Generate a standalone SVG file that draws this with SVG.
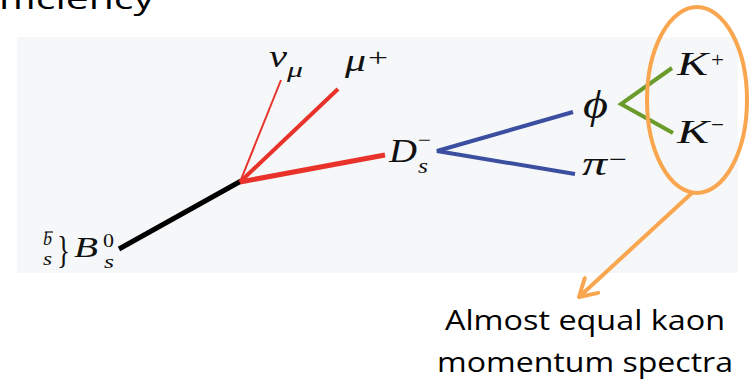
<svg xmlns="http://www.w3.org/2000/svg" width="750" height="381" viewBox="0 0 750 381">
<style>
.m{font-family:"Liberation Serif","DejaVu Serif",serif;font-style:italic;fill:#111}
.r{font-family:"Liberation Serif","DejaVu Serif",serif;fill:#111}
.t{font-family:"Open Sans","Liberation Sans",sans-serif;fill:#000}
</style>
<defs>
<marker id="ah" markerWidth="24" markerHeight="24" refX="19" refY="12" orient="auto" markerUnits="userSpaceOnUse" viewBox="0 0 24 24">
<polyline points="2,2 19,12 2,22" fill="none" stroke="#f9a64f" stroke-width="4" stroke-linecap="round" stroke-linejoin="round"/>
</marker>
</defs>
<rect width="750" height="381" fill="#fff"/>
<text class="t" x="-2" y="9" font-size="30" textLength="156" lengthAdjust="spacingAndGlyphs">fficiency</text>
<rect id="panel" x="17" y="37" width="721" height="236" fill="#f5f7f9"/>
<g id="connectors">
<line x1="119" y1="249" x2="241" y2="181" stroke="#000" stroke-width="5"/>
<line x1="240" y1="182" x2="281" y2="80" stroke="#e8322a" stroke-width="2"/>
<line x1="240" y1="182" x2="338" y2="89" stroke="#e8322a" stroke-width="4"/>
<line x1="240" y1="182" x2="385" y2="155" stroke="#e8322a" stroke-width="5"/>
<polyline points="573,112 437,151 575,174" fill="none" stroke="#3b4ea0" stroke-width="4"/>
<polyline points="672,68 621,104 673,133" fill="none" stroke="#6b9b2b" stroke-width="4"/>
<line x1="693" y1="192" x2="579" y2="297" stroke="#f9a64f" stroke-width="4" marker-end="url(#ah)"/>
</g>
<g id="Bs">
<text class="m" x="43" y="245" font-size="18" textLength="9" lengthAdjust="spacingAndGlyphs">b</text>
<line x1="45" y1="232" x2="53" y2="232" stroke="#111" stroke-width="1.2"/>
<text class="m" x="43" y="265" font-size="18" textLength="9" lengthAdjust="spacingAndGlyphs">s</text>
<text class="r" x="57" y="263" font-size="38" textLength="13" lengthAdjust="spacingAndGlyphs">}</text>
<text class="m" x="74" y="257" font-size="30" textLength="24" lengthAdjust="spacingAndGlyphs">B</text>
<text class="r" x="103" y="247" font-size="19" textLength="11" lengthAdjust="spacingAndGlyphs">0</text>
<text class="m" x="104" y="268" font-size="19" textLength="10" lengthAdjust="spacingAndGlyphs">s</text>
</g>
<g id="nu">
<text class="m" x="269" y="67" font-size="32" textLength="18" lengthAdjust="spacingAndGlyphs">ν</text>
<text class="m" x="287" y="77" font-size="22" textLength="16" lengthAdjust="spacingAndGlyphs">μ</text>
</g>
<g id="mu">
<text class="m" x="345" y="71" font-size="32" textLength="21" lengthAdjust="spacingAndGlyphs">μ</text>
<text class="r" x="368" y="66" font-size="26" textLength="20" lengthAdjust="spacingAndGlyphs">+</text>
</g>
<g id="Ds">
<text class="m" x="389" y="162" font-size="33" textLength="28" lengthAdjust="spacingAndGlyphs">D</text>
<text class="r" x="418" y="148" font-size="24" textLength="13" lengthAdjust="spacingAndGlyphs">−</text>
<text class="m" x="418" y="173" font-size="22" textLength="10" lengthAdjust="spacingAndGlyphs">s</text>
</g>
<g id="phi">
<text class="m" x="583" y="118" font-size="40" textLength="25" lengthAdjust="spacingAndGlyphs">ϕ</text>
</g>
<g id="pi">
<text class="m" x="582" y="175" font-size="34" textLength="25" lengthAdjust="spacingAndGlyphs">π</text>
<text class="r" x="609" y="168" font-size="26" textLength="18" lengthAdjust="spacingAndGlyphs">−</text>
</g>
<g id="Kp">
<text class="m" x="677" y="75" font-size="33" textLength="31" lengthAdjust="spacingAndGlyphs">K</text>
<text class="r" x="711" y="67" font-size="22" textLength="13" lengthAdjust="spacingAndGlyphs">+</text>
</g>
<g id="Km">
<text class="m" x="677" y="143" font-size="33" textLength="32" lengthAdjust="spacingAndGlyphs">K</text>
<text class="r" x="711" y="132" font-size="22" textLength="13" lengthAdjust="spacingAndGlyphs">−</text>
</g>
<ellipse id="circle" cx="697" cy="100" rx="50" ry="93" fill="none" stroke="#f9a64f" stroke-width="4"/>
<g id="label">
<text class="t" x="445" y="330" font-size="28" textLength="280" lengthAdjust="spacingAndGlyphs">Almost equal kaon</text>
<text class="t" x="437" y="372" font-size="28" textLength="296" lengthAdjust="spacingAndGlyphs">momentum spectra</text>
</g>
</svg>
